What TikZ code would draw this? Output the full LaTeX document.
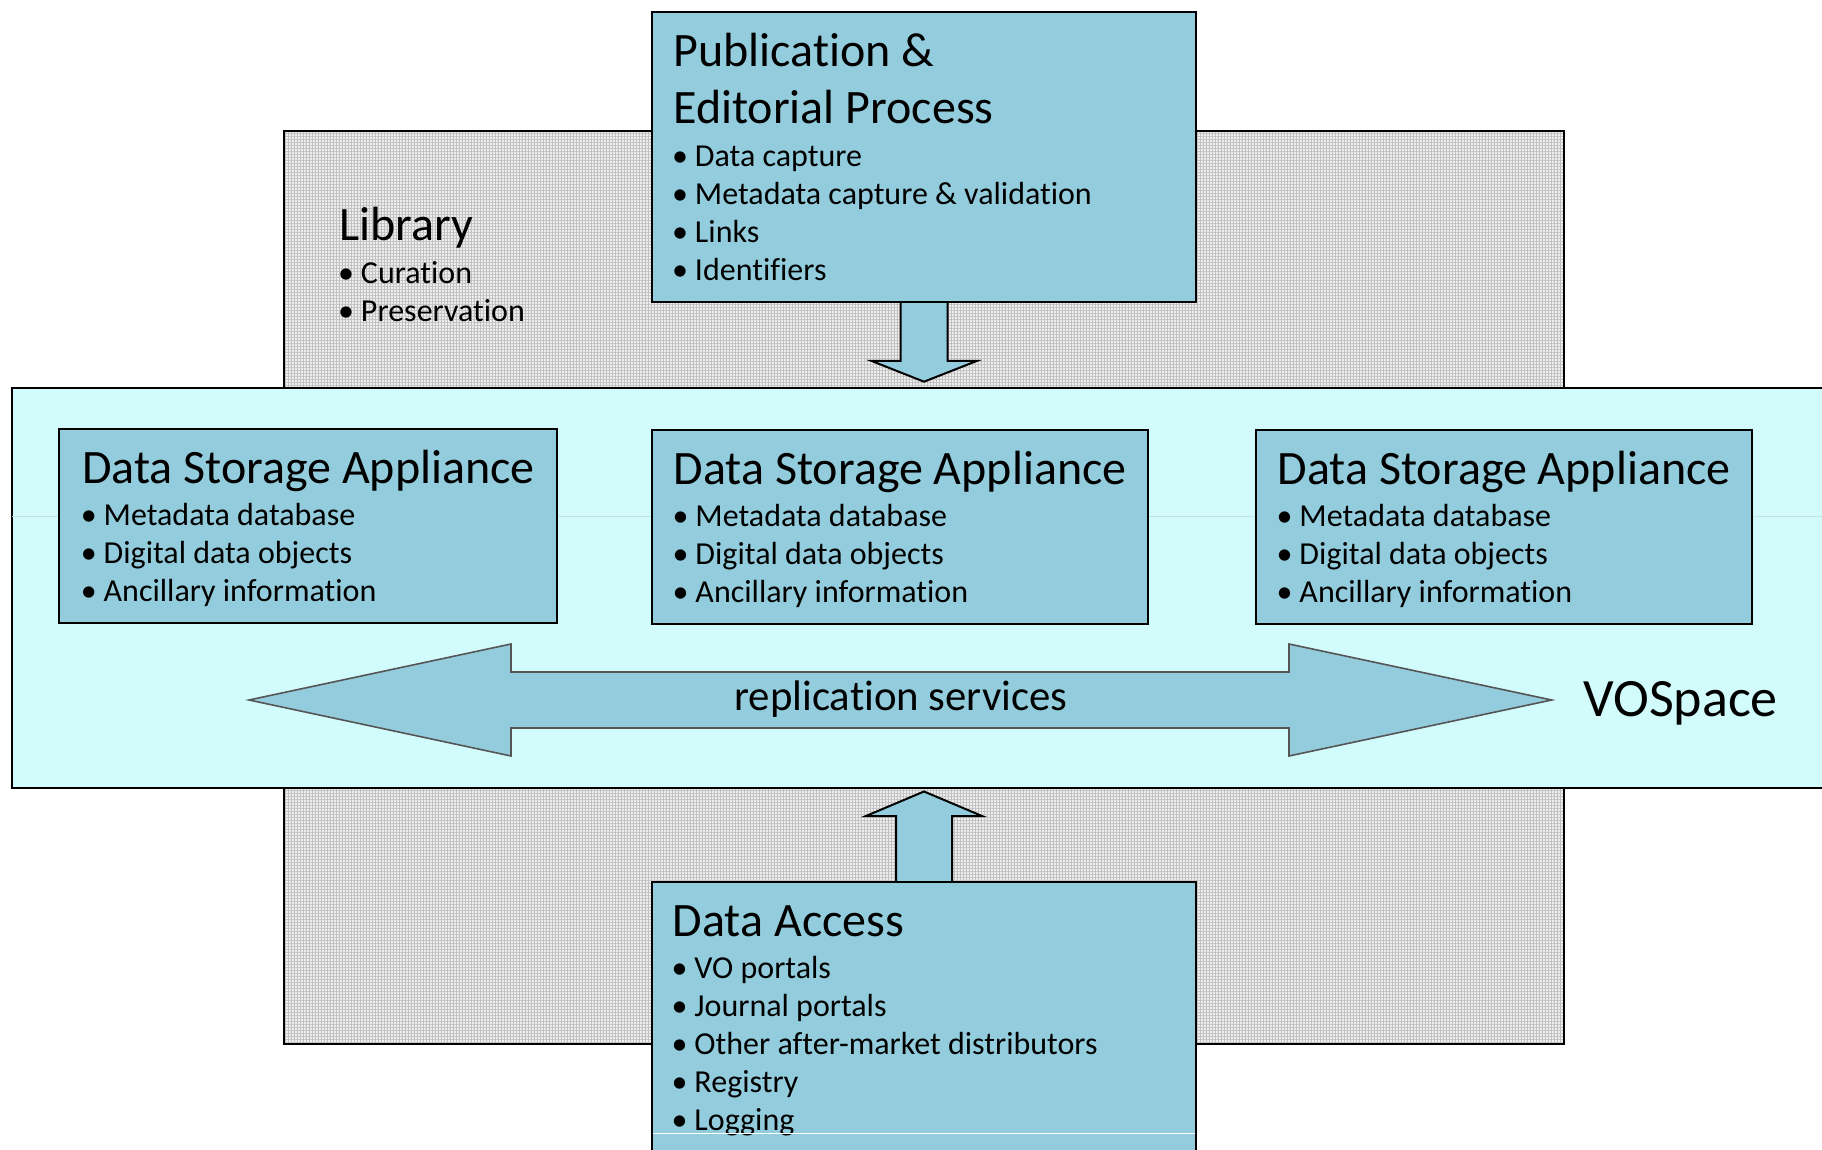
\documentclass[tikz,border=0pt]{standalone}
\usepackage{fontspec}
\setmainfont{Carlito}[Ligatures=NoCommon]
\usetikzlibrary{patterns.meta}
\definecolor{boxblue}{RGB}{147,205,221}
\definecolor{vocyan}{RGB}{210,252,252}
\definecolor{libgray}{RGB}{238,238,238}
\definecolor{libgrid}{RGB}{192,192,192}
\definecolor{arrowedge}{RGB}{85,85,85}
\definecolor{faintline}{RGB}{196,226,228}
\newcommand{\mybul}[1]{\hspace*{-0.6pt}\makebox[11.4pt][l]{\textbullet}#1}
\begin{document}
\begin{tikzpicture}[x=0.5pt,y=-0.5pt,
  blk/.style={draw=black, line width=1pt, inner sep=0pt, outer sep=0pt, anchor=north west},
  bluebox/.style={blk, fill=boxblue},
  ttl/.style={anchor=base west, inner sep=0pt, font=\fontsize{24}{28}\selectfont},
  itm/.style={anchor=base west, inner sep=0pt, font=\fontsize{16}{19}\selectfont},
  blockarrow/.style={fill=boxblue, draw=black, line width=1pt, line join=miter},
]
\clip (0,0) rectangle (1822,1150);
\fill[white] (0,0) rectangle (1822,1150);

% Library background
\fill[libgray] (284,131) rectangle (1564,1044);
\fill[pattern={Hatch[distance=1.5pt, line width=0.25pt]}, pattern color=libgrid] (284,131) rectangle (1564,1044);
\node[blk, minimum width=640pt, minimum height=456.5pt] (lib) at (284,131) {};
\node[ttl] (libt) at (339,241) {Library};
\foreach \t [count=\i] in {Curation, Preservation}
  \node[itm] (libb\i) at (339,{246+38*\i}) {\mybul{\t}};

% VOSpace
\node[blk, fill=vocyan, minimum width=915pt, minimum height=200.15pt] (vo) at (11.6,387.7) {};
\draw[faintline, line width=0.3pt] (12,516.7) -- (1822,516.7);

% down arrow
\coordinate (dtip) at (924,381.7);
\filldraw[blockarrow] (900.7,295) -- (900.7,361) -- (871.7,361) -- (dtip) -- (976.7,361) -- (947.7,361) -- (947.7,295);
% up arrow
\coordinate (utip) at (924,791.5);
\filldraw[blockarrow] (896,890) -- (896,816) -- (866,816) -- (utip) -- (982,816) -- (952,816) -- (952,890);

% replication double arrow
\coordinate (ltip) at (249,700);
\coordinate (rtip) at (1551.7,700);
\filldraw[fill=boxblue, draw=arrowedge, line width=0.8pt] (ltip) -- (511,644) -- (511,672) -- (1289,672) -- (1289,644) -- (rtip) -- (1289,756) -- (1289,728) -- (511,728) -- (511,756) -- cycle;
\node[anchor=base, inner sep=0pt, font=\fontsize{21.4}{25}\selectfont] (rep) at (901,710) {replication services};
\node[anchor=base west, inner sep=0pt, font=\fontsize{27}{32}\selectfont] (volbl) at (1583,716.7) {VOSpace};

% Publication box
\node[bluebox, minimum width=272pt, minimum height=145.3pt] (pub) at (652,11.7) {};
\node[ttl] (pubt1) at (673,66.7) {Publication \&};
\node[ttl] (pubt2) at (673,123.3) {Editorial Process};
\foreach \t [count=\i] in {Data capture, Metadata capture \& validation, Links, Identifiers}
  \node[itm] (pubb\i) at (673,{128.7+38*\i}) {\mybul{\t}};

% Data Storage Appliances
\node[bluebox, minimum width=248.7pt, minimum height=96.7pt] (dsa1) at (59.3,429.3) {};
\node[ttl] (dsa1t) at (81.7,483.3) {Data Storage Appliance};
\foreach \t [count=\i] in {Metadata database, Digital data objects, Ancillary information}
  \node[itm] (dsa1b\i) at (81.7,{486.7+38.3*\i}) {\mybul{\t}};

\node[bluebox, minimum width=248pt, minimum height=96.65pt] (dsa2) at (652,430.5) {};
\node[ttl] (dsa2t) at (673.5,484.3) {Data Storage Appliance};
\foreach \t [count=\i] in {Metadata database, Digital data objects, Ancillary information}
  \node[itm] (dsa2b\i) at (673.5,{487.7+38.3*\i}) {\mybul{\t}};

\node[bluebox, minimum width=248pt, minimum height=96.65pt] (dsa3) at (1256,430.5) {};
\node[ttl] (dsa3t) at (1277.5,484.3) {Data Storage Appliance};
\foreach \t [count=\i] in {Metadata database, Digital data objects, Ancillary information}
  \node[itm] (dsa3b\i) at (1277.5,{487.7+38.3*\i}) {\mybul{\t}};

% Data Access box
\node[bluebox, minimum width=272.25pt, minimum height=150pt] (da) at (651.5,882.3) {};
\node[ttl] (dat) at (672.5,936) {Data Access};
\foreach \t [count=\i] in {VO portals, Journal portals, Other after-market distributors, Registry, Logging}
  \node[itm] (dab\i) at (672.5,{940.2+38.1*\i}) {\mybul{\t}};
\draw[white, line width=0.5pt] (653,1133.3) -- (1195,1133.3);
\end{tikzpicture}
\end{document}
